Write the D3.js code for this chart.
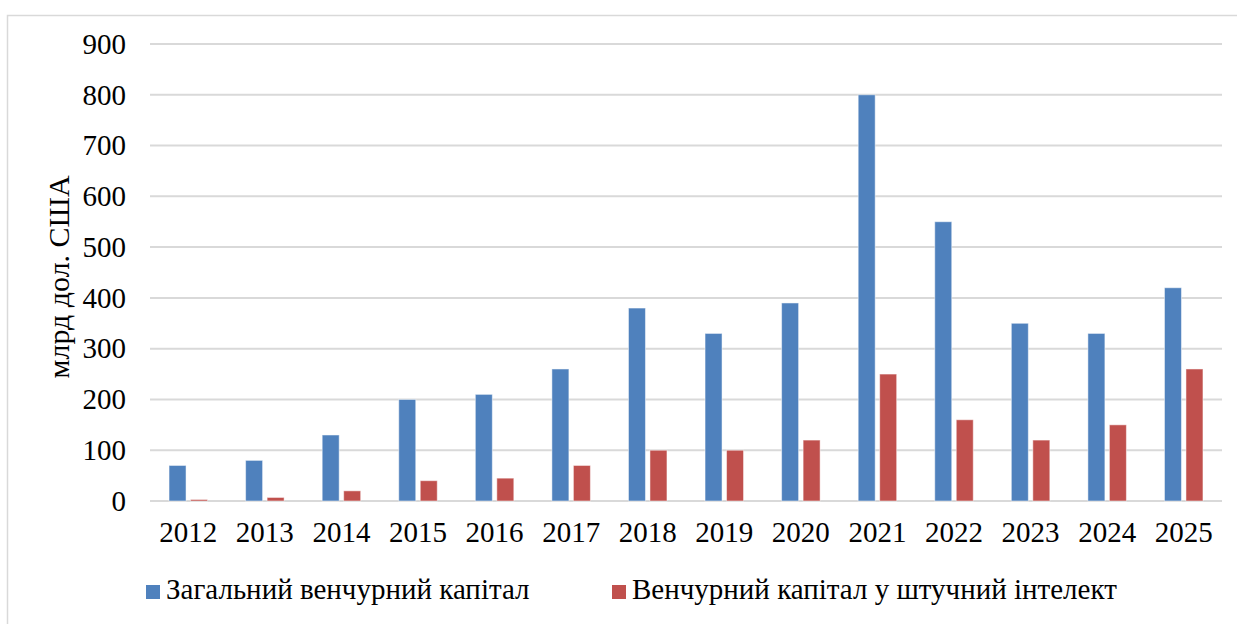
<!DOCTYPE html>
<html>
<head>
<meta charset="utf-8">
<script src="https://cdn.jsdelivr.net/npm/d3@7"></script>
<style>
  body { margin: 0; background: #fff; }
  text { font-family: "Liberation Serif", "Times New Roman", "DejaVu Serif", serif; fill: #000; }
</style>
</head>
<body>
<div id="chart"></div>
<script>
var years = ["2012", "2013", "2014", "2015", "2016", "2017", "2018", "2019", "2020", "2021", "2022", "2023", "2024", "2025"];
var totalVC = [70, 80, 130, 200, 210, 260, 380, 330, 390, 800, 550, 350, 330, 420];
var aiVC = [3, 7, 20, 40, 45, 70, 100, 100, 120, 250, 160, 120, 150, 260];
var yTicks = [0, 100, 200, 300, 400, 500, 600, 700, 800, 900];
var seriesNames = ["Загальний венчурний капітал", "Венчурний капітал у штучний інтелект"];
var colors = ["#4F81BD", "#C0504D"];

var svgWidth = 1237;
var svgHeight = 624;
var margin = { top: 44, right: 15, bottom: 123, left: 150 };
var width = 1222 - margin.left;
var height = 501 - margin.top;
var fontSize = "29px";

var svg = d3.select("#chart")
    .append("svg")
    .attr("width", svgWidth)
    .attr("height", svgHeight);

// outer frame
svg.append("rect")
    .attr("x", 7.5)
    .attr("y", 15.5)
    .attr("width", 1240)
    .attr("height", 620)
    .attr("fill", "none")
    .attr("stroke", "#d9d9d9")
    .attr("stroke-width", 1.5);

var chartGroup = svg.append("g")
    .attr("transform", `translate(${margin.left}, ${margin.top})`);

var x0 = d3.scaleBand().domain(years).range([0, width]);
var y = d3.scaleLinear().domain([0, 900]).range([height, 0]);

// gridlines
chartGroup.selectAll(".grid")
    .data(yTicks)
    .enter()
    .append("line")
    .attr("x1", 0)
    .attr("x2", width)
    .attr("y1", d => y(d))
    .attr("y2", d => y(d))
    .attr("stroke", "#d9d9d9")
    .attr("stroke-width", 2);

// y axis labels
var leftAxis = d3.axisLeft(y).tickValues(yTicks).tickSize(0).tickPadding(24);
var yAxis = chartGroup.append("g").call(leftAxis);
yAxis.select(".domain").remove();
yAxis.selectAll("text")
    .style("font-size", fontSize);

// x axis labels
var bottomAxis = d3.axisBottom(x0).tickSize(0).tickPadding(20);
var xAxis = chartGroup.append("g")
    .attr("transform", `translate(0, ${height})`)
    .call(bottomAxis);
xAxis.select(".domain").remove();
xAxis.selectAll("text")
    .style("font-size", fontSize);

// bars
var barW = 17;
var gap = 4.5;
var series = [totalVC, aiVC];
series.forEach(function(vals, i) {
    chartGroup.selectAll(".bar" + i)
        .data(vals)
        .enter()
        .append("rect")
        .attr("x", (d, j) => x0(years[j]) + x0.bandwidth() / 2 + (i === 0 ? -barW - gap / 2 : gap / 2))
        .attr("y", d => y(d))
        .attr("width", barW)
        .attr("height", d => height - y(d))
        .attr("fill", colors[i])
        .attr("stroke", "#ffffff")
        .attr("stroke-opacity", 0.5)
        .attr("stroke-width", 1);
});

// y axis title
svg.append("text")
    .attr("transform", "rotate(-90)")
    .attr("x", -277)
    .attr("y", 69)
    .attr("text-anchor", "middle")
    .style("font-size", "30px")
    .text("млрд дол. США");

// legend
var legendX = [146, 612];
seriesNames.forEach(function(name, i) {
    var g = svg.append("g").attr("transform", `translate(${legendX[i]}, 592)`);
    g.append("rect")
        .attr("x", 0)
        .attr("y", -7)
        .attr("width", 14)
        .attr("height", 14)
        .attr("fill", colors[i]);
    g.append("text")
        .attr("x", 20)
        .attr("y", 7)
        .style("font-size", fontSize)
        .text(name);
});
</script>
</body>
</html>
